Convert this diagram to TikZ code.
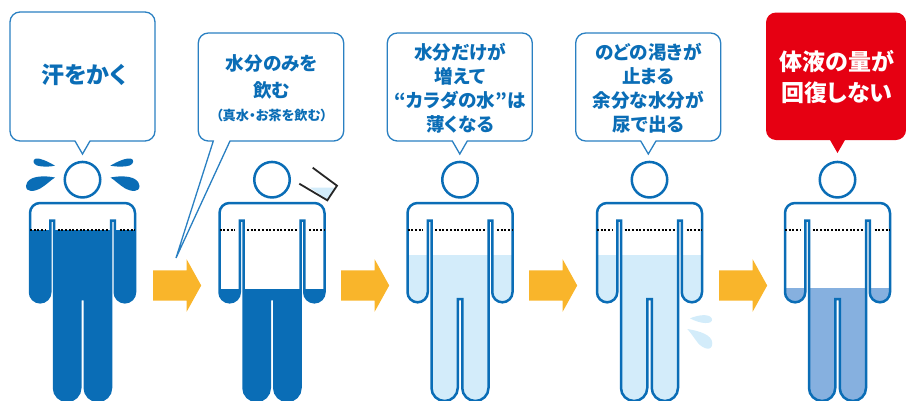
\documentclass[tikz,border=0pt]{standalone}
\usepackage{fontspec}
\setmainfont{Noto Sans CJK JP}[BoldFont={* Black},RawFeature={+palt}]
\usetikzlibrary{positioning,shapes.arrows}

\definecolor{bodyblue}{HTML}{0A6DB6}
\definecolor{lineblue}{HTML}{2A80C2}
\definecolor{palewater}{HTML}{D3ECFA}
\definecolor{midwater}{HTML}{86B0DF}
\definecolor{flowyellow}{HTML}{F9B52B}
\definecolor{alertred}{HTML}{E60012}

% outline of one figure, centred on x=0
\newcommand{\bodypath}{(-2.25,299) -- (-2.25,388) .. controls (-2.25,395.2) and (-8.2,401) .. (-15.4,401) .. controls (-22.6,401) and (-28.5,395.2) .. (-28.5,388) -- (-28.5,220.5) -- (-32.25,220.5) -- (-32.25,292.2) .. controls (-32.25,297.8) and (-36.8,302.3) .. (-42.4,302.3) .. controls (-48,302.3) and (-52.5,297.8) .. (-52.5,292.2) -- (-52.5,213) .. controls (-52.5,207.5) and (-48,203) .. (-42.5,203) -- (42.5,203) .. controls (48,203) and (52.5,207.5) .. (52.5,213) -- (52.5,292.2) .. controls (52.5,297.8) and (48,302.3) .. (42.4,302.3) .. controls (36.8,302.3) and (32.25,297.8) .. (32.25,292.2) -- (32.25,220.5) -- (28.5,220.5) -- (28.5,388) .. controls (28.5,395.2) and (22.6,401) .. (15.4,401) .. controls (8.2,401) and (2.25,395.2) .. (2.25,388) -- (2.25,299) -- cycle}

% name, centre x, water level, water colour
\newcommand{\person}[4]{
	\begin{scope}[shift={(#2,0)}]
		\begin{scope}
			\clip (-60,#3) rectangle (60,410);
			\fill[#4] \bodypath;
		\end{scope}
		\draw[bodyline] \bodypath;
		\draw[levelline] (-52.5,230) -- (-37,230);
		\draw[levelline] (-25,230) -- (25,230);
		\draw[levelline] (37,230) -- (52.5,230);
		\node[headc] (#1) at (0,179.7) {};
	\end{scope}
}

\begin{document}
\begin{tikzpicture}[x=1pt,y=-1pt,
	bodyline/.style={draw=bodyblue, line width=2.5pt},
	levelline/.style={black, line width=1.6pt, dash pattern=on 2pt off 1.7pt},
	headc/.style={circle, draw=bodyblue, line width=2.5pt, fill=white, inner sep=0pt, minimum size=35.5pt},
	bubble/.style={draw=lineblue, line width=1.3pt, fill=white},
	flow/.style={single arrow, anchor=tail, fill=flowyellow, inner xsep=0pt, inner ysep=15pt, minimum height=48pt, single arrow head extend=11pt, single arrow tip angle=122, single arrow head indent=0pt},
	saytext/.style={align=center, text=bodyblue, font=\bfseries\fontsize{18.6}{24}\selectfont},
	bigtext/.style={align=center, font=\bfseries\fontsize{23}{31}\selectfont}
	]
	
	\useasboundingbox (0,0) rectangle (906,400);
	
	\person{head1}{82.5}{230}{bodyblue}
	\person{head2}{272}{289.5}{bodyblue}
	\person{head3}{460}{255}{palewater}
	\person{head4}{649.5}{255}{palewater}
	\person{head5}{837.5}{288}{midwater}
	
	% speech bubbles
	\draw[bubble] (75,141) [rounded corners=10pt] -- (10,141) -- (10,12) -- (155,12) -- (155,141) [sharp corners] -- (90,141) -- (82.5,154) -- cycle;
	\draw[bubble] (213.3,141) [rounded corners=10pt] -- (198.3,141) -- (198.3,33) -- (343.7,33) -- (343.7,141) [sharp corners] -- (230,141) -- (176,258) -- cycle;
	\draw[bubble] (452.3,141) [rounded corners=10pt] -- (387.3,141) -- (387.3,33) -- (532.3,33) -- (532.3,141) [sharp corners] -- (467.3,141) -- (459.8,154) -- cycle;
	\draw[bubble] (640.7,141) [rounded corners=10pt] -- (575.7,141) -- (575.7,33) -- (720.7,33) -- (720.7,141) [sharp corners] -- (656,141) -- (648.3,154) -- cycle;
	\fill[alertred] (830,140) [rounded corners=10pt] -- (766,140) -- (766,12.5) -- (906,12.5) -- (906,140) [sharp corners] -- (845,140) -- (837.5,153) -- cycle;
	
	\node[saytext, font=\bfseries\fontsize{23}{26}\selectfont] (say1) at (84,74.5) {汗をかく};
	\node[saytext, font=\bfseries\fontsize{18.6}{27.7}\selectfont] (say2) at (271.7,76.8) {水分のみを\\飲む};
	\node[saytext, font=\bfseries\fontsize{13.2}{16}\selectfont] (say2b) [below=3pt of say2] {（真水・お茶を飲む）};
	\node[saytext] (say3) at (460,88) {水分だけが\\増えて\\“カラダの水”は\\薄くなる};
	\node[saytext] (say4) at (648.3,88) {のどの渇きが\\止まる\\余分な水分が\\尿で出る};
	\node[bigtext, text=white] (say5) at (837,77.3) {体液の量が\\回復しない};
	
	% flow arrows
	\node[flow] (flow1) at (153,285.5) {};
	\node[flow] (flow2) at (341,285.5) {};
	\node[flow] (flow3) at (529,285.5) {};
	\node[flow] (flow4) at (719,285.5) {};
	
	% sweat
	\fill[bodyblue] (55,165.7) .. controls (47,161) and (40,158) .. (36,158.5) .. controls (32,159.5) and (33,164) .. (37,165.5) .. controls (42,167) and (49,167) .. (55,165.7);
	\fill[bodyblue] (55,177.5) .. controls (45,175.5) and (27,175) .. (26,186) .. controls (26,192.5) and (34,192) .. (41,188) .. controls (46,185) and (51,180) .. (55,177.5);
	\fill[bodyblue] (110.3,165.7) .. controls (118.3,161) and (125.7,158) .. (130.7,158.5) .. controls (134.7,159.5) and (133.7,164) .. (129.7,165.5) .. controls (124.7,167) and (117.3,167) .. (110.3,165.7);
	\fill[bodyblue] (110.5,177.5) .. controls (120.5,175.5) and (138.5,175) .. (139.5,186) .. controls (139.5,192.5) and (131.5,192) .. (124.5,188) .. controls (119.5,185) and (114.5,180) .. (110.5,177.5);
	
	% drops after urine
	\fill[palewater] (690,318.3) .. controls (698,315) and (710,313) .. (712,319) .. controls (713,325) and (700,324) .. (690,318.3);
	\fill[palewater] (687.3,329) .. controls (700,331) and (712,335) .. (712.3,343) .. controls (712.5,352) and (703,349) .. (698,343) .. controls (694,338) and (691,333) .. (687.3,329);
	
	% glass
	\fill[palewater] (310,187.7) -- (334.5,187.7) -- (327.3,199.5) -- cycle;
	\draw[black!85, line width=1.8pt] (312.7,167.7) -- (337,185.7) -- (327.3,200.3) -- (299.3,183.7);
	
\end{tikzpicture}
\end{document}
